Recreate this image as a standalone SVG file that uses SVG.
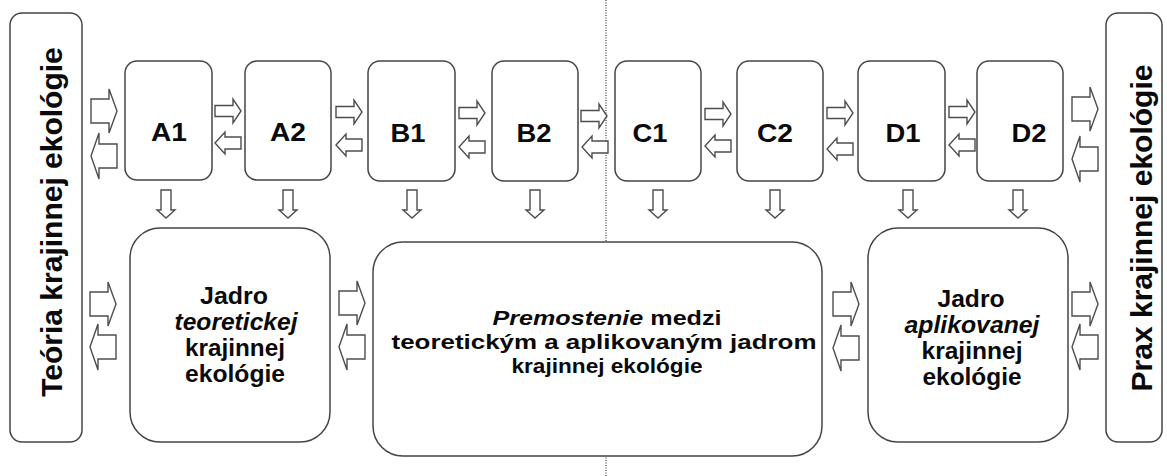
<svg xmlns="http://www.w3.org/2000/svg" width="1167" height="476" viewBox="0 0 1167 476">
  <style>
    .box { fill: #ffffff; stroke: #444444; stroke-width: 1.5; }
    .arr { fill: #ffffff; stroke: #4d4d4d; stroke-width: 1.4; stroke-linejoin: miter; }
    .lbl { font-family: "Liberation Sans", Arial, sans-serif; font-weight: bold; fill: #0a0a0a; text-anchor: middle; }
    .node { font-size: 26px; }
    .core { font-size: 23px; }
    .mid { font-size: 20.5px; }
    .side { font-size: 30px; }
    .it { font-style: italic; }
    .divider { stroke: #111111; stroke-width: 1; stroke-dasharray: 1 1.5; fill: none; }
  </style>
  <defs>
    <!-- block arrows, anchored at the left end / top centre -->
    <path id="bigR" class="arr" d="M0,-12 H18 V-22 L26,0 L18,22 V12 H0 Z"/>
    <path id="bigL" class="arr" d="M26,-12 H8 V-23 L0,0 L8,23 V12 H26 Z"/>
    <path id="smR" class="arr" d="M0,-5.5 H18 V-12 L26,0 L18,12 V5.5 H0 Z"/>
    <path id="smL" class="arr" d="M26,-6 H10 V-11 L0,0 L10,11 V6 H26 Z"/>
    <path id="smD" class="arr" d="M-5,0 V20 H-9 L0,28 L9,20 H5 V0 Z"/>
  </defs>

  <rect width="1167" height="476" fill="#ffffff"/>

  <!-- vertical divider -->
  <line class="divider" x1="606" y1="0" x2="606" y2="476"/>

  <!-- side panels -->
  <g id="teoria">
    <rect class="box" x="10" y="13" width="72" height="429" rx="12"/>
    <text class="lbl side" transform="translate(62 222) rotate(-90)" x="0" y="0">Teória krajinnej ekológie</text>
  </g>
  <g id="prax">
    <rect class="box" x="1106" y="13" width="56" height="429" rx="12"/>
    <text class="lbl side" transform="translate(1152 228) rotate(-90)" x="0" y="0">Prax krajinnej ekológie</text>
  </g>

  <!-- top row of stages -->
  <g id="A1"><rect class="box" x="125" y="61" width="87" height="119" rx="12"/>
    <text class="lbl node" x="169" y="141" textLength="36" lengthAdjust="spacingAndGlyphs">A1</text></g>
  <g id="A2"><rect class="box" x="245" y="61" width="86" height="119" rx="12"/>
    <text class="lbl node" x="288" y="141" textLength="36" lengthAdjust="spacingAndGlyphs">A2</text></g>
  <g id="B1"><rect class="box" x="368" y="61" width="87" height="120" rx="12"/>
    <text class="lbl node" x="408" y="142" textLength="35" lengthAdjust="spacingAndGlyphs">B1</text></g>
  <g id="B2"><rect class="box" x="492" y="61" width="86" height="120" rx="12"/>
    <text class="lbl node" x="534" y="142" textLength="35" lengthAdjust="spacingAndGlyphs">B2</text></g>
  <g id="C1"><rect class="box" x="615" y="61" width="86" height="120" rx="12"/>
    <text class="lbl node" x="650" y="142" textLength="35" lengthAdjust="spacingAndGlyphs">C1</text></g>
  <g id="C2"><rect class="box" x="737" y="61" width="86" height="120" rx="12"/>
    <text class="lbl node" x="775" y="142" textLength="36" lengthAdjust="spacingAndGlyphs">C2</text></g>
  <g id="D1"><rect class="box" x="858" y="61" width="87" height="120" rx="12"/>
    <text class="lbl node" x="903" y="142" textLength="35" lengthAdjust="spacingAndGlyphs">D1</text></g>
  <g id="D2"><rect class="box" x="977" y="61" width="86" height="120" rx="12"/>
    <text class="lbl node" x="1029" y="142" textLength="35" lengthAdjust="spacingAndGlyphs">D2</text></g>

  <!-- bottom row: cores and bridge -->
  <g id="jadro-teoreticke">
    <rect class="box" x="130" y="228" width="200" height="214" rx="30"/>
    <text class="lbl core" x="234" y="304" textLength="68" lengthAdjust="spacingAndGlyphs">Jadro</text>
    <text class="lbl core it" x="236" y="330" textLength="123" lengthAdjust="spacingAndGlyphs">teoretickej</text>
    <text class="lbl core" x="235" y="356" textLength="100" lengthAdjust="spacingAndGlyphs">krajinnej</text>
    <text class="lbl core" x="235" y="382" textLength="100" lengthAdjust="spacingAndGlyphs">ekológie</text>
  </g>
  <g id="premostenie">
    <rect class="box" x="373" y="242" width="449" height="214" rx="30"/>
    <text class="lbl mid" x="607" y="325" textLength="229" lengthAdjust="spacingAndGlyphs"><tspan class="it">Premostenie</tspan> medzi</text>
    <text class="lbl mid" x="604" y="349" textLength="425" lengthAdjust="spacingAndGlyphs">teoretickým a aplikovaným jadrom</text>
    <text class="lbl mid" x="607" y="373" textLength="191" lengthAdjust="spacingAndGlyphs">krajinnej ekológie</text>
  </g>
  <g id="jadro-aplikovane">
    <rect class="box" x="868" y="228" width="200" height="214" rx="30"/>
    <text class="lbl core" x="971" y="307" textLength="67" lengthAdjust="spacingAndGlyphs">Jadro</text>
    <text class="lbl core it" x="972" y="333" textLength="135" lengthAdjust="spacingAndGlyphs">aplikovanej</text>
    <text class="lbl core" x="972" y="359" textLength="101" lengthAdjust="spacingAndGlyphs">krajinnej</text>
    <text class="lbl core" x="972" y="385" textLength="99" lengthAdjust="spacingAndGlyphs">ekológie</text>
  </g>

  <!-- connectors -->
  <g id="connectors">
    <!-- top row, horizontal pairs -->
    <use href="#bigR" x="91" y="111"/>
    <use href="#bigL" x="91" y="156"/>
    <use href="#smR" x="215" y="111"/>
    <use href="#smL" x="215" y="143"/>
    <use href="#smR" x="336" y="112"/>
    <use href="#smL" x="336" y="145"/>
    <use href="#smR" x="459" y="113"/>
    <use href="#smL" x="459" y="147"/>
    <use href="#smR" x="581" y="116"/>
    <use href="#smL" x="582" y="147"/>
    <use href="#smR" x="705" y="114"/>
    <use href="#smL" x="705" y="146"/>
    <use href="#smR" x="827" y="113"/>
    <use href="#smL" x="827" y="149"/>
    <use href="#smR" x="949" y="112"/>
    <use href="#smL" x="949" y="145"/>
    <use href="#bigR" x="1072" y="109"/>
    <use href="#bigL" x="1072" y="159"/>

    <!-- top row, downward -->
    <use href="#smD" x="166" y="190"/>
    <use href="#smD" x="288" y="190"/>
    <use href="#smD" x="412" y="190"/>
    <use href="#smD" x="535" y="190"/>
    <use href="#smD" x="658" y="190"/>
    <use href="#smD" x="775" y="190"/>
    <use href="#smD" x="908" y="190"/>
    <use href="#smD" x="1018" y="190"/>

    <!-- bottom row, horizontal pairs -->
    <use href="#bigR" x="90" y="304"/>
    <use href="#bigL" x="90" y="347"/>
    <use href="#bigR" x="339" y="303"/>
    <use href="#bigL" x="339" y="347"/>
    <use href="#bigR" x="833" y="304"/>
    <use href="#bigL" x="833" y="348"/>
    <use href="#bigR" x="1072" y="304"/>
    <use href="#bigL" x="1072" y="347"/>
  </g>
</svg>
